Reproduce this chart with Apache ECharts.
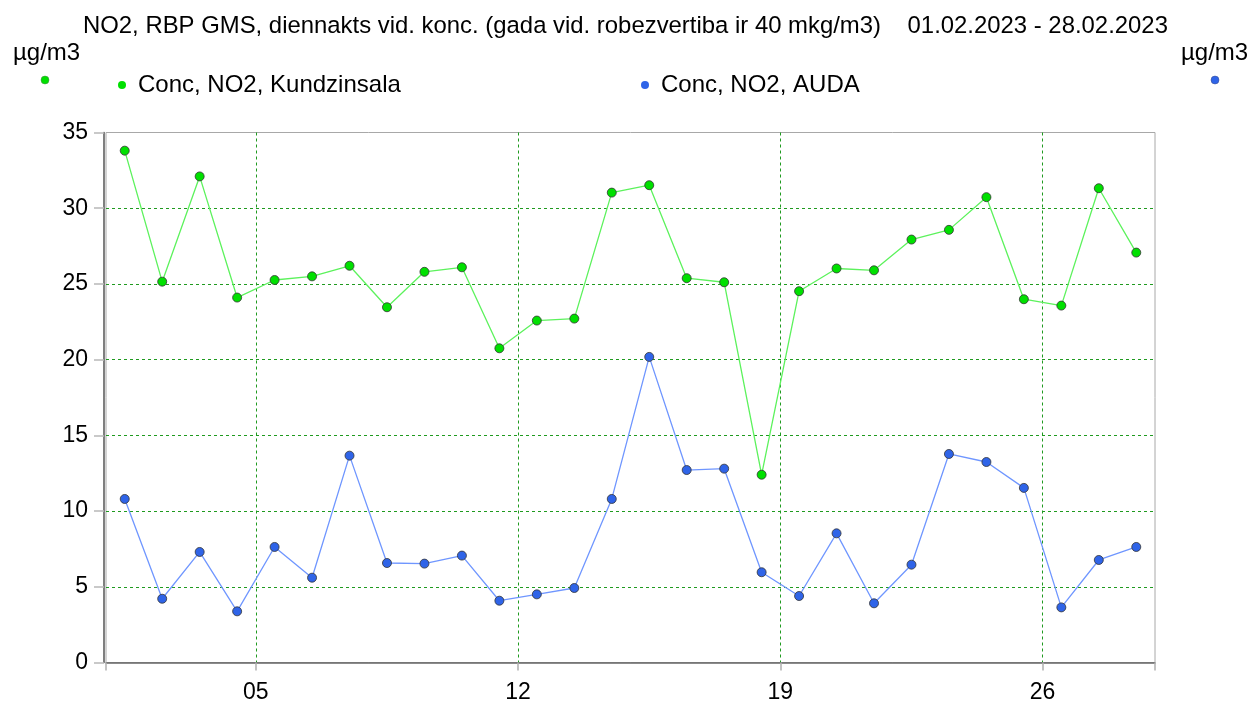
<!DOCTYPE html>
<html>
<head>
<meta charset="utf-8">
<script src="https://cdn.jsdelivr.net/npm/echarts@6/dist/echarts.min.js"></script>
<style>
html,body{margin:0;padding:0;background:#fff;}
#chart{width:1252px;height:704px;}
</style>
</head>
<body>
<div id="chart"></div>
<script>
// ---- data ----
const days = [1,2,3,4,5,6,7,8,9,10,11,12,13,14,15,16,17,18,19,20,21,22,23,24,25,26,27,28];
const kundzinsala = [33.8,25.15,32.1,24.1,25.26,25.5,26.2,23.46,25.8,26.1,20.75,22.58,22.71,31.03,31.52,25.38,25.11,12.4,24.52,26.02,25.9,27.93,28.57,30.73,23.99,23.57,31.32,27.07];
const auda = [10.8,4.21,7.3,3.38,7.63,5.6,13.66,6.57,6.53,7.06,4.08,4.5,4.92,10.8,20.18,12.71,12.8,5.96,4.39,8.53,3.91,6.46,13.77,13.24,11.53,3.64,6.77,7.63];
const xTickLabels = ['05','12','19','26'];
const xLabelDays = [5,12,19,26];
const yTicks = [0,5,10,15,20,25,30,35];
const yGridValues = [5,10,15,20,25,30];
const seriesNames = ['Conc, NO2, Kundzinsala','Conc, NO2, AUDA'];
const titleText = 'NO2, RBP GMS, diennakts vid. konc. (gada vid. robezvertiba ir 40 mkg/m3)    01.02.2023 - 28.02.2023';
const unitText = 'µg/m3';

// axis units: day d plotted at d; midnight starting day d at d-0.5
const xMin = days[0] - 0.5, xMax = days[days.length-1] + 0.5;
const labelPos = xLabelDays.map(d => d - 0.5);
const tickPos = [xMin].concat(labelPos, [xMax]);

const FONT = '"Liberation Sans", Arial, sans-serif';
const chart = echarts.init(document.getElementById('chart'));

const greenLine = '#5cf25c', greenDot = '#00e000';
const blueLine = '#6f96ff', blueDot = '#2f64e8';
const gridColor = '#1f9a1f';

chart.setOption({
  animation: false,
  backgroundColor: '#fff',
  textStyle: { fontFamily: FONT },
  title: {
    text: titleText, left: 78, top: 9,
    textStyle: { fontFamily: FONT, fontSize: 23.9, fontWeight: 'normal', color: '#000' }
  },
  legend: [
    { data: [seriesNames[0]], left: 113, top: 68, icon: 'circle', itemWidth: 8, itemHeight: 8,
      itemStyle: { borderWidth: 0 },
      textStyle: { fontFamily: FONT, fontSize: 24, color: '#000', padding: [0,0,0,7] } },
    { data: [seriesNames[1]], left: 636, top: 68, icon: 'circle', itemWidth: 8, itemHeight: 8,
      itemStyle: { borderWidth: 0 },
      textStyle: { fontFamily: FONT, fontSize: 24, color: '#000', padding: [0,0,0,7] } }
  ],
  graphic: [
    { type: 'text', left: 13, top: 41, style: { text: unitText, font: '24px ' + FONT, fill: '#000' } },
    { type: 'text', left: 1181, top: 41, style: { text: unitText, font: '24px ' + FONT, fill: '#000' } },
    { type: 'circle', shape: { cx: 45, cy: 80, r: 4 }, style: { fill: greenDot, stroke: '#4a8a4a', lineWidth: 0.5 } },
    { type: 'circle', shape: { cx: 1215, cy: 80, r: 4 }, style: { fill: blueDot, stroke: '#3a4a8a', lineWidth: 0.5 } }
  ],
  grid: {
    left: 106, right: 97, top: 132.5, bottom: 41.5,
    outerBoundsMode: 'none', containLabel: false,
    show: true, borderColor: '#a8a8a8', borderWidth: 1, backgroundColor: 'transparent'
  },
  xAxis: [
    {
      type: 'value', min: xMin, max: xMax, offset: 2,
      axisLine: { show: true, lineStyle: { color: '#666', width: 1.5 } },
      axisTick: { show: true, length: 8, customValues: tickPos, lineStyle: { color: '#b0b0b0', width: 1.5 } },
      axisLabel: {
        customValues: labelPos, margin: 17, fontFamily: FONT, fontSize: 23, color: '#000',
        formatter: v => xTickLabels[labelPos.indexOf(v)] || ''
      },
      splitLine: { show: false }
    },
    {
      type: 'value', min: xMin, max: xMax, position: 'bottom',
      axisLine: { show: false },
      axisTick: { show: false, customValues: labelPos },
      axisLabel: { show: false, customValues: labelPos },
      splitLine: { show: true, lineStyle: { color: gridColor, type: [3,3], width: 1 } }
    }
  ],
  yAxis: [
    {
      type: 'value', min: 0, max: 35, offset: 2,
      axisLine: { show: true, lineStyle: { color: '#555', width: 1.5 } },
      axisTick: { show: true, length: 10, customValues: yTicks, lineStyle: { color: '#b8b8b8', width: 1.5 } },
      axisLabel: { customValues: yTicks, margin: 16, fontFamily: FONT, fontSize: 23, color: '#000' },
      splitLine: { show: false }
    },
    {
      type: 'value', min: 0, max: 35, position: 'left',
      axisLine: { show: false },
      axisTick: { show: false, customValues: yGridValues },
      axisLabel: { show: false, customValues: yGridValues },
      splitLine: { show: true, lineStyle: { color: gridColor, type: [3,3], width: 1 } }
    }
  ],
  series: [
    {
      name: seriesNames[1], type: 'line', xAxisIndex: 0, yAxisIndex: 0,
      data: days.map((d, i) => [d, auda[i]]),
      symbol: 'circle', symbolSize: 9,
      lineStyle: { color: blueLine, width: 1.3 },
      itemStyle: { color: blueDot, borderColor: '#333', borderWidth: 0.8 },
      z: 3
    },
    {
      name: seriesNames[0], type: 'line', xAxisIndex: 0, yAxisIndex: 0,
      data: days.map((d, i) => [d, kundzinsala[i]]),
      symbol: 'circle', symbolSize: 9,
      lineStyle: { color: greenLine, width: 1.3 },
      itemStyle: { color: greenDot, borderColor: '#333', borderWidth: 0.8 },
      z: 4
    }
  ]
});
</script>
</body>
</html>
